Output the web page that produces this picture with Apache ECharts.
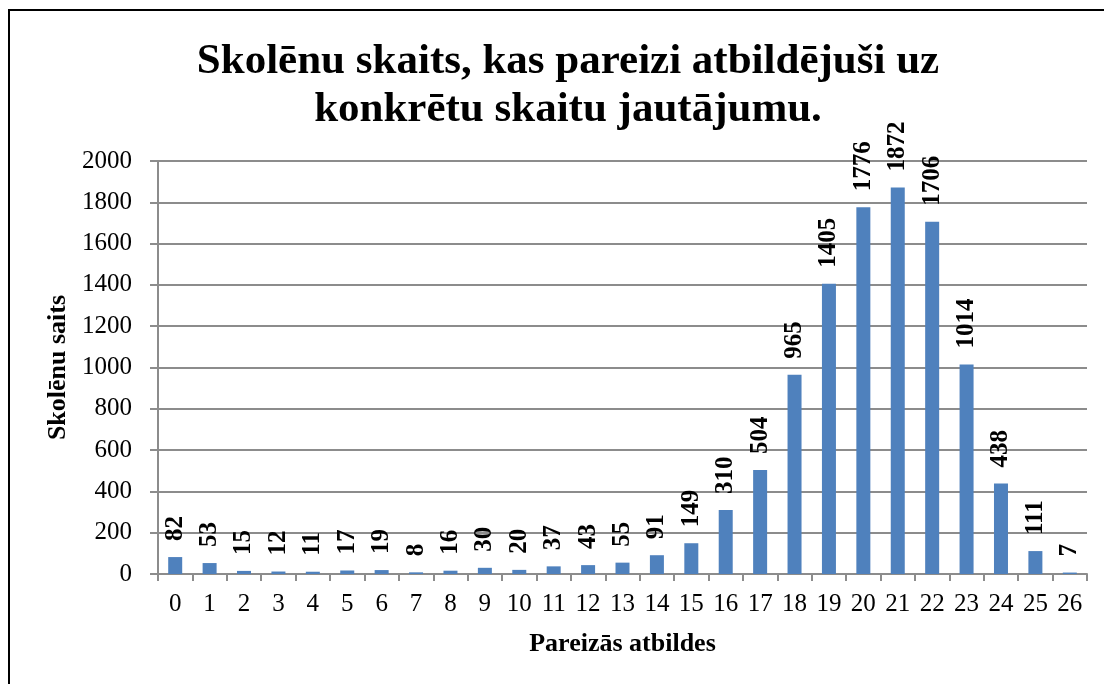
<!DOCTYPE html>
<html>
<head>
<meta charset="utf-8">
<script src="https://cdn.jsdelivr.net/npm/echarts@6/dist/echarts.min.js"></script>
<style>
  html, body { margin: 0; padding: 0; background: #fff; }
  #chart { width: 1104px; height: 684px; }
</style>
</head>
<body>
<div id="chart"></div>
<script>
var categories = ['0', '1', '2', '3', '4', '5', '6', '7', '8', '9', '10', '11', '12', '13',
  '14', '15', '16', '17', '18', '19', '20', '21', '22', '23', '24', '25', '26'];
var students = [82, 53, 15, 12, 11, 17, 19, 8, 16, 30, 20, 37, 43, 55,
  91, 149, 310, 504, 965, 1405, 1776, 1872, 1706, 1014, 438, 111, 7];

var serif = '"Liberation Serif", "Times New Roman", serif';
var gridGray = '#8c8c8c';

var myChart = echarts.init(document.getElementById('chart'));
var option = {
  animation: false,
  title: {
    text: 'Skolēnu skaits, kas pareizi atbildējuši uz\nkonkrētu skaitu jautājumu.',
    left: 563,
    top: 33,
    textAlign: 'center',
    textStyle: {
      fontFamily: serif,
      fontWeight: 'bold',
      fontSize: 43,
      lineHeight: 48,
      color: '#000'
    }
  },
  grid: {
    left: 158,
    right: 17,
    top: 161,
    bottom: 110
  },
  xAxis: {
    type: 'category',
    data: categories,
    name: 'Pareizās atbildes',
    nameLocation: 'middle',
    nameGap: 57,
    nameTextStyle: { fontFamily: serif, fontWeight: 'bold', fontSize: 26, color: '#000' },
    axisLine: { lineStyle: { color: gridGray, width: 2 } },
    axisTick: { show: true, length: 7, lineStyle: { color: gridGray, width: 2 } },
    axisLabel: { fontFamily: serif, fontSize: 25, color: '#000', margin: 18, interval: 0 }
  },
  yAxis: {
    type: 'value',
    min: 0,
    max: 2000,
    interval: 200,
    name: 'Skolēnu saits',
    nameLocation: 'middle',
    nameGap: 87,
    nameTextStyle: { fontFamily: serif, fontWeight: 'bold', fontSize: 26, color: '#000' },
    axisLine: { show: true, lineStyle: { color: gridGray, width: 2 } },
    axisTick: { show: true, length: 8, inside: false, lineStyle: { color: gridGray, width: 2 } },
    splitLine: { lineStyle: { color: gridGray, width: 2 } },
    axisLabel: {
      fontFamily: serif, fontSize: 25, color: '#000', margin: 26,
      formatter: function (v) { return String(v); }
    }
  },
  series: [
    {
      type: 'bar',
      data: students,
      barWidth: 14,
      itemStyle: { color: '#4f81bd' },
      label: {
        show: true,
        position: 'top',
        rotate: 90,
        align: 'left',
        verticalAlign: 'middle',
        distance: 16,
        fontFamily: serif,
        fontWeight: 'bold',
        fontSize: 25,
        color: '#000'
      }
    }
  ],
  graphic: [
    {
      type: 'polyline',
      shape: { points: [[9, 684], [9, 10], [1104, 10]] },
      style: { stroke: '#000', lineWidth: 2, fill: null }
    }
  ]
};

if (option && typeof option === 'object') {
  myChart.setOption(option);
}
</script>
</body>
</html>
